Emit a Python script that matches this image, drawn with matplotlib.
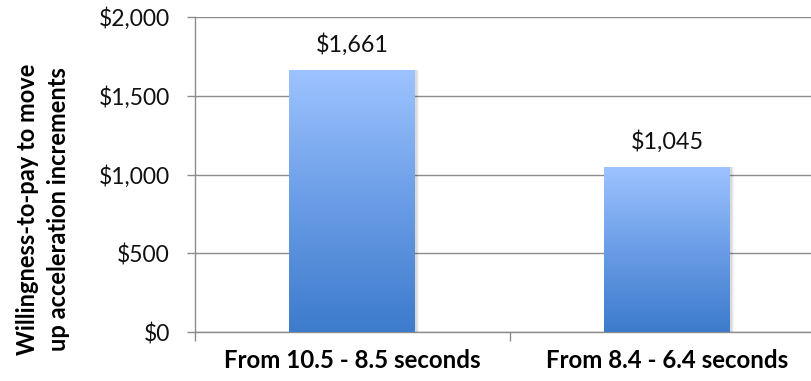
import numpy as np
import matplotlib.pyplot as plt
from matplotlib.colors import LinearSegmentedColormap
from matplotlib.ticker import FuncFormatter

categories = ['From 10.5 - 8.5 seconds', 'From 8.4 - 6.4 seconds']
wtp = [1661, 1045]
value_labels = ['$1,661', '$1,045']

plt.rcParams['font.family'] = ['Lato', 'DejaVu Sans']

fig = plt.figure(figsize=(8.12, 3.81), dpi=100)
# plot area runs a little past the right edge of the figure
ax = fig.add_axes([195 / 812, 1 - 332 / 381, 630 / 812, 315 / 381])

x = np.arange(len(categories))
bars = ax.bar(x, wtp, width=0.4, color='none', edgecolor='none', zorder=3)

grad = LinearSegmentedColormap.from_list('bar', ['#3d7bcc', '#6a9de6', '#9dc3ff'])
ramp = np.linspace(0, 1, 256).reshape(-1, 1)
for b in bars:
    x0, y0 = b.get_x(), b.get_y()
    w, h = b.get_width(), b.get_height()
    # soft shadow behind the bar
    for k, a in [(0.012, 0.04), (0.008, 0.05), (0.004, 0.06)]:
        ax.bar(x0 + w / 2 + k / 2, h + 4, width=w + k, bottom=-4, color='#000000',
               alpha=a, zorder=2, linewidth=0)
    im = ax.imshow(ramp, cmap=grad, origin='lower', aspect='auto',
                   extent=[x0, x0 + w, y0, y0 + h], zorder=3)
    im.set_clip_path(b)

for xi, v, lab in zip(x, wtp, value_labels):
    ax.text(xi, v + 95, lab, ha='center', va='bottom', fontsize=16.8, color='#111111')

ax.set_xlim(-0.5, 1.5)
ax.set_ylim(0, 2000)
ax.set_yticks([0, 500, 1000, 1500, 2000])
ax.yaxis.set_major_formatter(FuncFormatter(lambda v, p: '${:,.0f}'.format(v)))
ax.set_xticks(x)
ax.set_xticklabels(categories, fontsize=17.3, fontweight='bold')
ax.set_xticks([-0.5, 0.5, 1.5], minor=True)
ax.tick_params(axis='x', which='major', length=0, pad=12)
ax.tick_params(axis='x', which='minor', length=6.5, color='#8c8c8c', width=1)
ax.tick_params(axis='y', length=6, color='#8c8c8c', width=1, labelsize=16.5, pad=12,
               labelcolor='#111111')
ax.grid(axis='y', color='#8c8c8c', linewidth=1, zorder=0)
ax.set_axisbelow(True)

for s in ['top', 'right']:
    ax.spines[s].set_visible(False)
for s in ['left', 'bottom']:
    ax.spines[s].set_color('#8c8c8c')
    ax.spines[s].set_linewidth(1)

# axis title sits lower than the plot centre
fig.text(43 / 812, 172 / 381, 'Willingness-to-pay to move\nup acceleration increments',
         rotation=90, ha='center', va='center', fontsize=17, fontweight='bold',
         linespacing=1.45)

fig.savefig('out.png', dpi=100)
